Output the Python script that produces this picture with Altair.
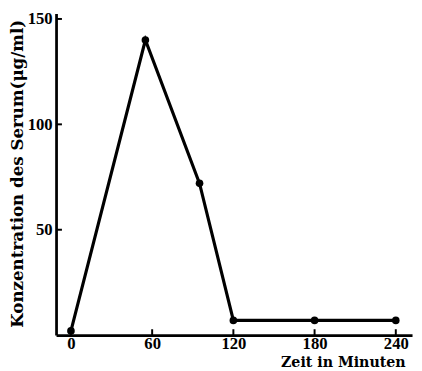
import altair as alt
import pandas as pd

minutes = [0, 55, 95, 120, 180, 240]
conc = [2, 140, 72, 7, 7, 7]
x_ticks = [0, 60, 120, 180, 240]
y_ticks = [50, 100, 150]

df = pd.DataFrame({"t": minutes, "c": conc})
W, H = 363, 328
LFONT = "Liberation Serif"
TFONT = "DejaVu Serif"

xs = alt.Scale(domain=[-11, 252], nice=False, zero=False)
ys = alt.Scale(domain=[0, 152.6], nice=False)

line = alt.Chart(df).mark_line(color="black", strokeWidth=3.2).encode(
    x=alt.X("t:Q", scale=xs,
            axis=alt.Axis(values=x_ticks, title="Zeit in Minuten",
                          titleAlign="right", titleBaseline="middle",
                          titleX=356, titleY=28, titleAngle=0,
                          ticks=False, labelPadding=1, domainWidth=2.8,
                          domainColor="black", labelFontSize=17, labelFontWeight="bold",
                          labelFont=LFONT, labelColor="black", titleFont=TFONT,
                          titleFontSize=14.5, titleFontWeight="bold", titleColor="black",
                          grid=False)),
    y=alt.Y("c:Q", scale=ys,
            axis=alt.Axis(values=y_ticks, title="Konzentration des Serum(μg/ml)",
                          ticks=False, labelPadding=4, domainWidth=2.8,
                          domainColor="black", labelFontSize=17, labelFontWeight="bold",
                          labelFont=LFONT, labelColor="black", titleFont=TFONT,
                          titleFontSize=17, titleFontWeight="bold", titleColor="black",
                          titleAngle=270, titleBaseline="middle", titleAlign="center",
                          titleX=-39, titleY=163, grid=False)),
)
pts = alt.Chart(df).mark_point(filled=True, color="black", size=60, opacity=1).encode(
    x=alt.X("t:Q", scale=xs), y=alt.Y("c:Q", scale=ys)
)
xt = alt.Chart(pd.DataFrame({"t": x_ticks})).mark_rule(color="black", strokeWidth=2).encode(
    x=alt.X("t:Q", scale=xs), y=alt.value(H), y2=alt.value(H - 6)
)
yt = alt.Chart(pd.DataFrame({"c": y_ticks})).mark_rule(color="black", strokeWidth=2).encode(
    y=alt.Y("c:Q", scale=ys), x=alt.value(0), x2=alt.value(6)
)

chart = alt.layer(line, xt, yt, pts).properties(
    width=W, height=H, background="white",
    autosize=alt.AutoSizeParams(type="none"),
    padding={"left": 49, "top": 2, "right": 2, "bottom": 33},
).configure_view(stroke=None)

chart.save("out.html", embed_options={"renderer": "svg", "actions": False})
